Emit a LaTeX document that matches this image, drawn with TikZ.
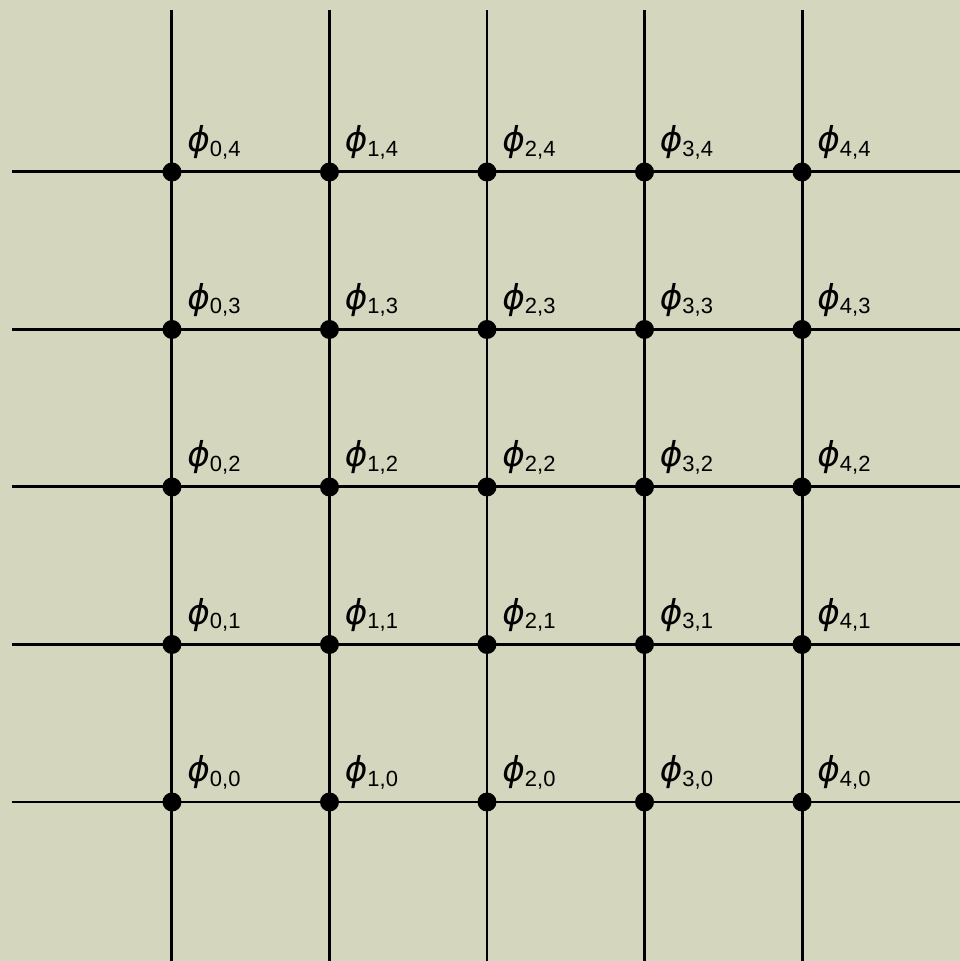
\documentclass[tikz,border=0pt]{standalone}
\usepackage{fontspec}
\setmainfont{Liberation Sans}
\newfontfamily\phifont{DejaVu Sans}
\definecolor{paper}{RGB}{213,214,190}
\newcommand{\fieldlabel}[2]{{\phifont\itshape\fontsize{19.5}{22}\selectfont ϕ}\raisebox{-2.5pt}{\fontsize{12.5}{14}\selectfont #1,#2}}
\tikzset{
  gridline/.style={line width=1.7pt, black},
  site/.style={circle, fill=black, inner sep=0pt, minimum size=0.38cm},
  sitelabel/.style={anchor=base west, inner sep=0pt}
}
\begin{document}
\begin{tikzpicture}[x=3.15cm, y=3.15cm]
  % paper background
  \fill[paper] (-1.092,-1.0095) rectangle (5.003,5.092);
  \useasboundingbox (-1.092,-1.0095) rectangle (5.003,5.092);

  % free ends of the grid lines
  \foreach \i in {0,...,4} {
    \coordinate (top\i) at (\i,5.029);
    \coordinate (bot\i) at (\i,-1.0095);
    \coordinate (left\i) at (-1.016,\i);
    \coordinate (right\i) at (5.003,\i);
  }

  % grid lines
  \foreach \i in {0,...,4} {
    \draw[gridline] (bot\i) -- (top\i);
    \draw[gridline] (left\i) -- (right\i);
  }

  % lattice sites
  \foreach \i in {0,...,4} {
    \foreach \j in {0,...,4} {
      \node[site] (s\i\j) at (\i,\j) {};
      \node[sitelabel] (l\i\j) at ([xshift=0.3cm, yshift=0.4cm]s\i\j.center) {\fieldlabel{\i}{\j}};
    }
  }
\end{tikzpicture}
\end{document}
